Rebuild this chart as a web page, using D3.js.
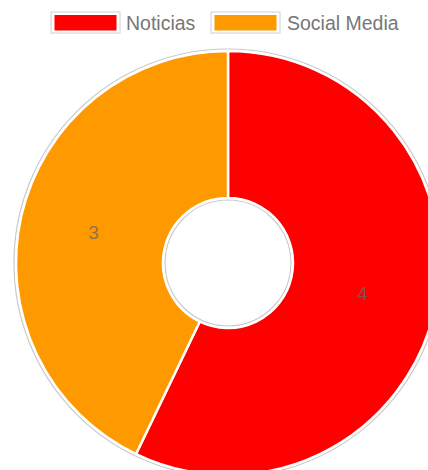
<!DOCTYPE html>
<html>
<head>
<meta charset="utf-8">
<script src="https://cdn.jsdelivr.net/npm/d3@7"></script>
<style>
html,body{margin:0;padding:0;background:#fff;}
svg{display:block;}
</style>
</head>
<body>
<svg id="chart" width="428" height="470"></svg>
<script>
const categories = ["Noticias", "Social Media"];
const values = [4, 3];
const colors = ["#ff0000", "#ff9900"];

const svg = d3.select("#chart");
const W = 428, H = 470;
const cx = 228, cy = 263, rOuter = 212, rInner = 65;

const pie = d3.pie().sort(null).value(d => d.v);
const arcs = pie(categories.map((c, i) => ({c, v: values[i], col: colors[i]})));
const arc = d3.arc().innerRadius(rInner).outerRadius(rOuter);
const labelArc = d3.arc().innerRadius(138).outerRadius(138);

const g = svg.append("g").attr("transform", `translate(${cx},${cy})`);

// faint grey rings (shadow-like outline)
g.append("circle").attr("r", rOuter + 2).attr("fill", "none")
  .attr("stroke", "#c8c8c8").attr("stroke-width", 1.2);
g.append("circle").attr("r", rInner - 2).attr("fill", "none")
  .attr("stroke", "#c8c8c8").attr("stroke-width", 1.2);

g.selectAll("path.slice").data(arcs).enter().append("path")
  .attr("class", "slice")
  .attr("d", arc)
  .attr("fill", d => d.data.col)
  .attr("stroke", "#fff")
  .attr("stroke-width", 2.5)
  .attr("stroke-linejoin", "round");

g.selectAll("text.lbl").data(arcs).enter().append("text")
  .attr("class", "lbl")
  .attr("transform", d => `translate(${labelArc.centroid(d)})`)
  .attr("text-anchor", "middle")
  .attr("dominant-baseline", "central")
  .attr("font-family", "Liberation Sans, Arial, sans-serif")
  .attr("font-size", 19)
  .attr("fill", "#666")
  .attr("fill-opacity", 0.75)
  .text(d => d.data.v);

// legend
const legend = svg.append("g");
const items = [
  {x: 51, tx: 126},
  {x: 211, tx: 287}
];
categories.forEach((c, i) => {
  const it = items[i];
  legend.append("rect").attr("x", it.x).attr("y", 12).attr("width", 69).attr("height", 21)
    .attr("fill", "#fff").attr("stroke", "#d0d0d0").attr("stroke-width", 1);
  legend.append("rect").attr("x", it.x + 3.5).attr("y", 15).attr("width", 62).attr("height", 15.5)
    .attr("fill", colors[i]);
  legend.append("text").attr("x", it.tx).attr("y", 23)
    .attr("dominant-baseline", "central")
    .attr("font-family", "Liberation Sans, Arial, sans-serif")
    .attr("font-size", 19.5)
    .attr("fill", "#777")
    .text(c);
});
</script>
</body>
</html>
